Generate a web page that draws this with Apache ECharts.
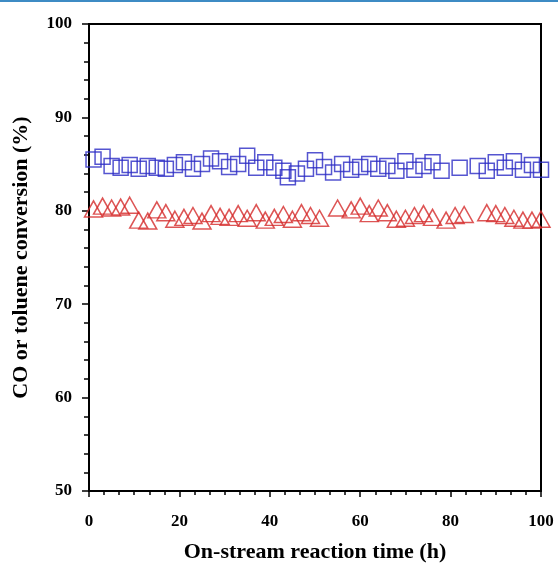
<!DOCTYPE html>
<html>
<head>
<meta charset="utf-8">
<script src="https://cdn.jsdelivr.net/npm/echarts@6/dist/echarts.min.js"></script>
<style>html,body{margin:0;padding:0;background:#fff}#c{width:558px;height:567px}</style>
</head>
<body>
<div id="c"></div>
<script>
// CO conversion (blue squares)
const coTime = [1,3,5,7,9,11,13,15,17,19,21,23,25,27,29,31,33,35,37,39,41,43,44,46,48,50,52,54,56,58,60,62,64,66,68,70,72,74,76,78,82,86,88,90,92,94,96,98,100];
const coConv = [85.5,85.8,84.8,84.6,84.9,84.5,84.8,84.6,84.5,84.9,85.2,84.5,85.0,85.6,85.3,84.7,85.0,85.9,84.6,85.2,84.6,84.3,83.6,84.0,84.5,85.4,84.7,84.1,85.0,84.4,84.7,85.0,84.5,84.8,84.3,85.3,84.4,84.8,85.2,84.3,84.6,84.8,84.3,85.2,84.6,85.3,84.4,84.9,84.4];
// Toluene conversion (red triangles)
const tolTime = [1,3,5,7,9,11,13,15,17,19,21,23,25,27,29,31,33,35,37,39,41,43,45,47,49,51,55,58,60,62,64,66,68,70,72,74,76,79,81,83,88,90,92,94,96,98,100];
const tolConv = [80.2,80.5,80.3,80.4,80.6,79.0,78.9,80.1,79.8,79.1,79.3,79.5,78.9,79.7,79.4,79.3,79.7,79.2,79.8,79.0,79.3,79.6,79.1,79.8,79.5,79.2,80.3,80.1,80.5,79.7,80.3,79.8,79.1,79.2,79.5,79.7,79.3,79.0,79.5,79.6,79.8,79.7,79.5,79.2,79.0,79.0,79.1];
const yTicks = [50,60,70,80,90,100];
const xTicks = [0,20,40,60,80,100];

const pair = (xs, ys) => xs.map((x, i) => [x, ys[i]]);
const chart = echarts.init(document.getElementById('c'));
const font = 'Liberation Serif, Times New Roman, serif';
chart.setOption({
  animation: false,
  backgroundColor: '#fff',
  graphic: [{type: 'rect', shape: {x: 0, y: 0, width: 558, height: 2}, style: {fill: '#3d8bc4'}}],
  grid: {left: 89, right: 17, top: 24, bottom: 76, show: true, borderColor: '#000', borderWidth: 2,
    backgroundColor: 'transparent', containLabel: false, outerBoundsMode: 'none'},
  xAxis: {
    type: 'value', min: 0, max: 100, interval: 20,
    name: 'On-stream reaction time (h)', nameLocation: 'middle', nameGap: 50,
    nameTextStyle: {fontFamily: font, fontWeight: 'bold', fontSize: 22, color: '#000'},
    axisLine: {show: true, lineStyle: {color: '#000', width: 2}},
    axisTick: {show: true, inside: false, length: 6, lineStyle: {color: '#000', width: 1.5}},
    minorTick: {show: true, splitNumber: 6, length: 4, lineStyle: {color: '#000', width: 1.5}},
    splitLine: {show: false},
    axisLabel: {fontFamily: font, fontWeight: 'bold', fontSize: 17, color: '#000', margin: 22,
      formatter: v => xTicks.includes(v) ? String(v) : ''}
  },
  yAxis: {
    type: 'value', min: 50, max: 100, interval: 10,
    name: 'CO or toluene conversion (%)', nameLocation: 'middle', nameGap: 57,
    nameTextStyle: {fontFamily: font, fontWeight: 'bold', fontSize: 22, color: '#000'},
    axisLine: {show: true, lineStyle: {color: '#000', width: 2}},
    axisTick: {show: true, inside: false, length: 7, lineStyle: {color: '#000', width: 1.5}},
    minorTick: {show: true, splitNumber: 5, length: 5, lineStyle: {color: '#000', width: 1.5}},
    splitLine: {show: false},
    axisLabel: {fontFamily: font, fontWeight: 'bold', fontSize: 17, color: '#000', margin: 17,
      formatter: v => yTicks.includes(v) ? String(v) : ''}
  },
  series: [
    {type: 'scatter', data: pair(coTime, coConv), symbol: 'rect', symbolSize: 15,
     itemStyle: {color: 'rgba(255,255,255,0)', borderColor: '#2b2bc4', borderWidth: 1.5}, clip: false},
    {type: 'scatter', data: pair(tolTime, tolConv), symbol: 'triangle', symbolSize: [18, 16],
     itemStyle: {color: 'rgba(255,255,255,0)', borderColor: '#d42a2a', borderWidth: 1.5}, clip: false}
  ]
});
</script>
</body>
</html>
